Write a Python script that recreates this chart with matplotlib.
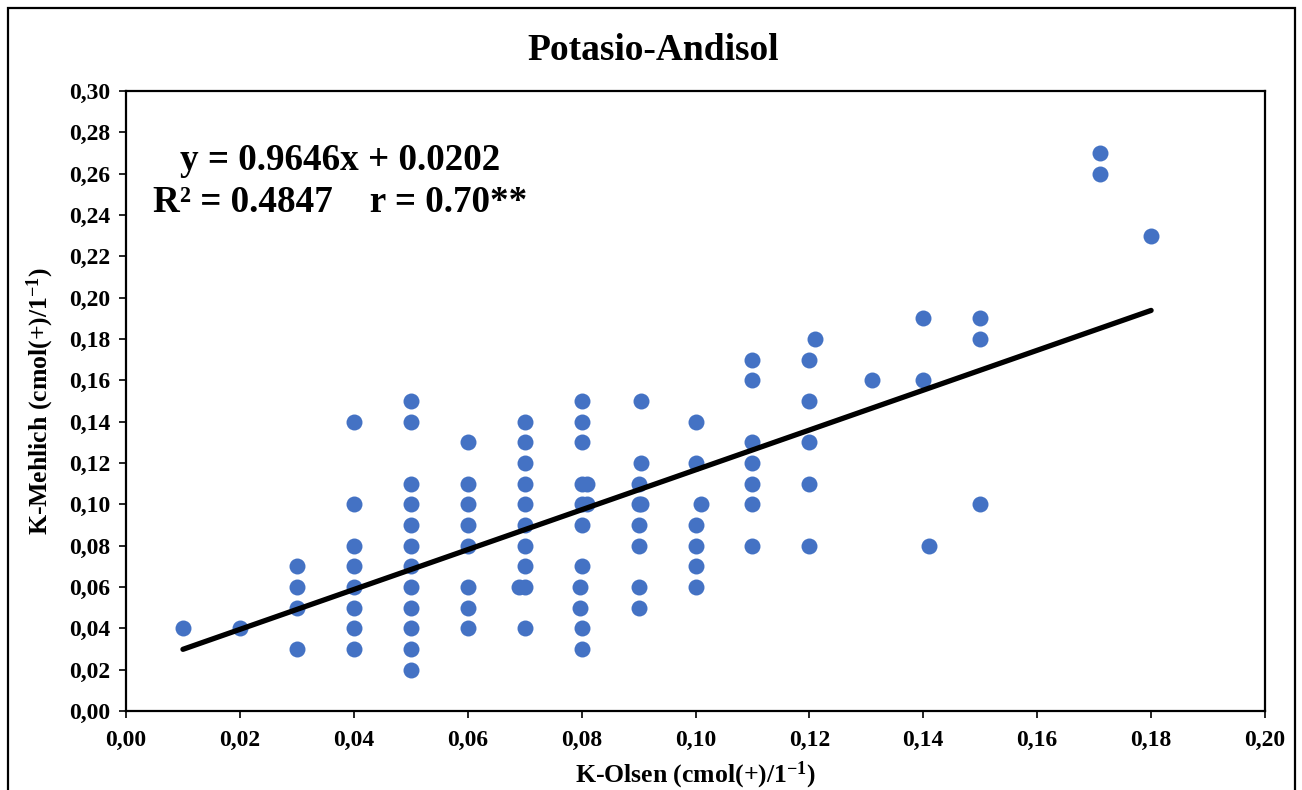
import matplotlib
matplotlib.use("Agg")
import matplotlib.pyplot as plt
from matplotlib.patches import Rectangle

plt.rcParams['font.family'] = ['Liberation Serif', 'DejaVu Serif']
plt.rcParams['font.weight'] = 'bold'
plt.rcParams['mathtext.fontset'] = 'custom'
plt.rcParams['mathtext.rm'] = 'Liberation Serif:bold'
plt.rcParams['mathtext.bf'] = 'Liberation Serif:bold'
plt.rcParams['mathtext.default'] = 'rm'

# ---- data (K-Olsen, K-Mehlich) ----
k_olsen = (
    [0.01] + [0.02] +
    [0.03] * 4 +
    [0.04] * 8 +
    [0.05] * 12 +
    [0.06] * 8 +
    [0.07] * 10 + [0.069] +
    [0.08] * 9 + [0.081, 0.081, 0.0798, 0.0798] +
    [0.09] * 6 + [0.0905] * 3 +
    [0.10] * 6 + [0.101] +
    [0.11] * 7 +
    [0.12] * 5 + [0.121] +
    [0.131] +
    [0.14] * 2 + [0.141] +
    [0.15] * 3 +
    [0.171] * 2 +
    [0.18]
)
k_mehlich = (
    [0.04] + [0.04] +
    [0.07, 0.06, 0.05, 0.03] +
    [0.14, 0.10, 0.08, 0.07, 0.06, 0.05, 0.04, 0.03] +
    [0.15, 0.14, 0.11, 0.10, 0.09, 0.08, 0.07, 0.06, 0.05, 0.04, 0.03, 0.02] +
    [0.13, 0.11, 0.10, 0.09, 0.08, 0.06, 0.05, 0.04] +
    [0.14, 0.13, 0.12, 0.11, 0.10, 0.09, 0.08, 0.07, 0.06, 0.04] + [0.06] +
    [0.15, 0.14, 0.13, 0.11, 0.10, 0.09, 0.07, 0.04, 0.03] + [0.11, 0.10, 0.06, 0.05] +
    [0.11, 0.10, 0.09, 0.08, 0.06, 0.05] + [0.15, 0.12, 0.10] +
    [0.14, 0.12, 0.09, 0.08, 0.07, 0.06] + [0.10] +
    [0.17, 0.16, 0.13, 0.12, 0.11, 0.10, 0.08] +
    [0.17, 0.15, 0.13, 0.11, 0.08] + [0.18] +
    [0.16] +
    [0.19, 0.16] + [0.08] +
    [0.19, 0.18, 0.10] +
    [0.27, 0.26] +
    [0.23]
)
slope = 0.9646
intercept = 0.0202
fit_x = [0.01, 0.18]

x_ticks = [0.00, 0.02, 0.04, 0.06, 0.08, 0.10, 0.12, 0.14, 0.16, 0.18, 0.20]
y_ticks = [0.00, 0.02, 0.04, 0.06, 0.08, 0.10, 0.12, 0.14, 0.16, 0.18, 0.20,
           0.22, 0.24, 0.26, 0.28, 0.30]

W, H = 1302, 790
fig = plt.figure(figsize=(W / 100, H / 100), dpi=100)
ax = fig.add_axes([126 / W, 1 - 711 / H, (1265 - 126) / W, (711 - 91) / H])

ax.plot(k_olsen, k_mehlich, linestyle='none', marker='o', markersize=11.5,
        color='#4472C4', markeredgewidth=0, zorder=2)
fit_y = [slope * v + intercept for v in fit_x]
ax.plot(fit_x, fit_y, color='black', linewidth=3.8, solid_capstyle='round', zorder=3)

ax.set_xlim(0, 0.20)
ax.set_ylim(0, 0.30)
ax.set_xticks(x_ticks)
ax.set_yticks(y_ticks)
ax.set_xticklabels([f"{v:.2f}".replace('.', ',') for v in x_ticks], fontsize=17, fontweight='bold')
ax.set_yticklabels([f"{v:.2f}".replace('.', ',') for v in y_ticks], fontsize=17, fontweight='bold')
ax.tick_params(axis='x', direction='out', length=5, width=1.2, pad=9)
ax.tick_params(axis='y', direction='out', length=5, width=1.2, pad=6)
for s in ax.spines.values():
    s.set_linewidth(1.6)
    s.set_color('black')

fig.text(653 / W, 1 - 50 / H, 'Potasio-Andisol', ha='center', va='center',
         fontsize=27, fontweight='bold')
fig.text(695 / W, 1 - 775 / H, r'K-Olsen (cmol(+)/1$^{-1}$)', ha='center', va='center',
         fontsize=18.5, fontweight='bold')
fig.text(40 / W, 1 - 401 / H, r'K-Mehlich (cmol(+)/1$^{-1}$)', ha='center', va='center',
         rotation=90, fontsize=18.5, fontweight='bold')

fig.text(180 / W, 1 - 160 / H, 'y = 0.9646x + 0.0202', ha='left', va='center',
         fontsize=26.7, fontweight='bold')
fig.text(153 / W, 1 - 203 / H, 'R² = 0.4847    r = 0.70**', ha='left', va='center',
         fontsize=26.7, fontweight='bold')

fig.patches.append(Rectangle((8 / W, -0.02), (1295 - 8) / W, 1 - 8 / H + 0.02,
                             transform=fig.transFigure, fill=False,
                             edgecolor='black', linewidth=1.6))

fig.savefig('out.png', dpi=100)
